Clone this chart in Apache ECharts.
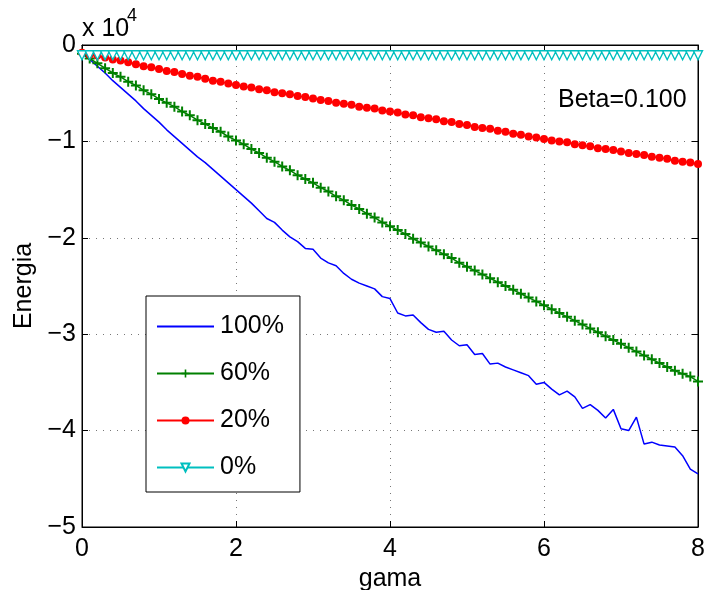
<!DOCTYPE html>
<html>
<head>
<meta charset="utf-8">
<script src="https://cdn.jsdelivr.net/npm/echarts@6/dist/echarts.min.js"></script>
<style>html,body{margin:0;padding:0;background:#fff;}#c{width:707px;height:590px;}</style>
</head>
<body>
<div id="c"></div>
<script>
// gama values (x axis)
var gama = [0.0,0.1,0.2,0.3,0.4,0.5,0.6,0.7,0.8,0.9,1.0,1.1,1.2,1.3,1.4,1.5,1.6,1.7,1.8,1.9,
  2.0,2.1,2.2,2.3,2.4,2.5,2.6,2.7,2.8,2.9,3.0,3.1,3.2,3.3,3.4,3.5,3.6,3.7,3.8,3.9,
  4.0,4.1,4.2,4.3,4.4,4.5,4.6,4.7,4.8,4.9,5.0,5.1,5.2,5.3,5.4,5.5,5.6,5.7,5.8,5.9,
  6.0,6.1,6.2,6.3,6.4,6.5,6.6,6.7,6.8,6.9,7.0,7.1,7.2,7.3,7.4,7.5,7.6,7.7,7.8,7.9,8.0];

// Energia, in units of 10^4
var e100 = [-0.09,-0.15,-0.22,-0.29,-0.37,-0.44,-0.51,-0.58,-0.66,-0.73,
  -0.80,-0.88,-0.95,-1.02,-1.09,-1.16,-1.22,-1.29,-1.36,-1.43,
  -1.50,-1.57,-1.64,-1.72,-1.80,-1.84,-1.92,-1.99,-2.04,-2.11,
  -2.12,-2.21,-2.26,-2.29,-2.37,-2.43,-2.47,-2.50,-2.53,-2.61,
  -2.63,-2.78,-2.81,-2.80,-2.88,-2.95,-2.98,-2.97,-3.06,-3.12,
  -3.11,-3.21,-3.20,-3.31,-3.30,-3.34,-3.37,-3.40,-3.43,-3.52,
  -3.50,-3.57,-3.63,-3.59,-3.65,-3.77,-3.73,-3.79,-3.87,-3.78,
  -3.98,-4.00,-3.86,-4.14,-4.12,-4.15,-4.16,-4.17,-4.26,-4.40,-4.45];

var e60 = [-0.09,-0.14,-0.19,-0.24,-0.29,-0.33,-0.38,-0.42,-0.47,-0.51,
  -0.56,-0.60,-0.64,-0.69,-0.73,-0.78,-0.82,-0.86,-0.90,-0.95,
  -0.99,-1.03,-1.08,-1.12,-1.17,-1.21,-1.26,-1.30,-1.35,-1.39,
  -1.43,-1.48,-1.52,-1.57,-1.61,-1.66,-1.70,-1.75,-1.79,-1.84,
  -1.88,-1.92,-1.96,-2.01,-2.05,-2.09,-2.13,-2.17,-2.21,-2.26,
  -2.30,-2.34,-2.38,-2.42,-2.46,-2.50,-2.54,-2.58,-2.62,-2.66,
  -2.70,-2.74,-2.78,-2.82,-2.86,-2.90,-2.94,-2.98,-3.02,-3.06,
  -3.10,-3.14,-3.18,-3.22,-3.26,-3.30,-3.34,-3.38,-3.41,-3.44,-3.49];

var e20 = [-0.08,-0.10,-0.11,-0.13,-0.15,-0.16,-0.18,-0.20,-0.22,-0.23,
  -0.25,-0.27,-0.28,-0.30,-0.32,-0.33,-0.35,-0.37,-0.38,-0.40,
  -0.415,-0.43,-0.44,-0.46,-0.47,-0.49,-0.50,-0.51,-0.53,-0.54,
  -0.555,-0.57,-0.58,-0.60,-0.61,-0.62,-0.64,-0.65,-0.66,-0.68,
  -0.69,-0.70,-0.72,-0.73,-0.75,-0.76,-0.77,-0.79,-0.80,-0.82,
  -0.83,-0.85,-0.86,-0.87,-0.89,-0.90,-0.92,-0.93,-0.95,-0.96,
  -0.975,-0.99,-1.00,-1.01,-1.03,-1.04,-1.05,-1.07,-1.08,-1.09,
  -1.105,-1.12,-1.13,-1.14,-1.16,-1.17,-1.18,-1.20,-1.21,-1.22,-1.235];

var e0 = [-0.085,-0.085,-0.085,-0.085,-0.085,-0.085,-0.085,-0.085,-0.085,-0.085,
  -0.085,-0.085,-0.085,-0.085,-0.085,-0.085,-0.085,-0.085,-0.085,-0.085,
  -0.085,-0.085,-0.085,-0.085,-0.085,-0.085,-0.085,-0.085,-0.085,-0.085,
  -0.085,-0.085,-0.085,-0.085,-0.085,-0.085,-0.085,-0.085,-0.085,-0.085,
  -0.085,-0.085,-0.085,-0.085,-0.085,-0.085,-0.085,-0.085,-0.085,-0.085,
  -0.085,-0.085,-0.085,-0.085,-0.085,-0.085,-0.085,-0.085,-0.085,-0.085,
  -0.085,-0.085,-0.085,-0.085,-0.085,-0.085,-0.085,-0.085,-0.085,-0.085,
  -0.085,-0.085,-0.085,-0.085,-0.085,-0.085,-0.085,-0.085,-0.085,-0.085,-0.085];

var seriesNames = ['100%', '60%', '20%', '0%'];
var xTicks = [0, 2, 4, 6, 8];
var yTicks = [0, -1, -2, -3, -4, -5];

function pairs(ys) { return gama.map(function (g, i) { return [g, ys[i]]; }); }
function fmt(v) { return String(v).replace('-', '\u2212'); }

var FONT = '"Liberation Sans", Arial, Helvetica, sans-serif';
var FS = 25;
var chart = echarts.init(document.getElementById('c'), null, { renderer: 'canvas' });

var dotted = { show: true, lineStyle: { color: '#777', width: 1, type: [1, 6] } };

var option = {
  backgroundColor: '#fff',
  animation: false,
  textStyle: { fontFamily: FONT },
  grid: { left: 82, top: 45, right: 9, bottom: 63, containLabel: false, outerBoundsMode: 'none',
    show: true, borderColor: '#000', borderWidth: 1, backgroundColor: 'transparent' },
  xAxis: [{
    type: 'value', min: xTicks[0], max: xTicks[xTicks.length - 1], interval: 2,
    name: 'gama', nameLocation: 'middle', nameGap: 37,
    nameTextStyle: { fontSize: FS, color: '#000', fontFamily: FONT },
    axisLine: { show: true, onZero: false, lineStyle: { color: '#000', width: 1 } },
    axisTick: { show: true, inside: true, length: 6, lineStyle: { color: '#000' } },
    axisLabel: { fontSize: FS, color: '#000', margin: 10, fontFamily: FONT, formatter: fmt },
    splitLine: dotted
  }, {
    type: 'value', position: 'top', min: 0, max: 8, interval: 2,
    axisLine: { show: true, onZero: false, lineStyle: { color: '#000', width: 1 } },
    axisTick: { show: true, inside: true, length: 6, lineStyle: { color: '#000' } },
    axisLabel: { show: false }, splitLine: { show: false }
  }],
  yAxis: [{
    type: 'value', min: yTicks[yTicks.length - 1], max: yTicks[0], interval: 1,
    name: 'Energia', nameLocation: 'middle', nameGap: 44, nameRotate: 90,
    nameTextStyle: { fontSize: FS, color: '#000', fontFamily: FONT },
    axisLine: { show: true, onZero: false, lineStyle: { color: '#000', width: 1 } },
    axisTick: { show: true, inside: true, length: 6, lineStyle: { color: '#000' } },
    axisLabel: { fontSize: FS, color: '#000', margin: 6, fontFamily: FONT, formatter: fmt },
    splitLine: dotted
  }, {
    type: 'value', position: 'right', min: -5, max: 0, interval: 1,
    axisLine: { show: true, onZero: false, lineStyle: { color: '#000', width: 1 } },
    axisTick: { show: true, inside: true, length: 6, lineStyle: { color: '#000' } },
    axisLabel: { show: false }, splitLine: { show: false }
  }],
  legend: {
    orient: 'vertical', left: 146, top: 296,
    data: [
      { name: seriesNames[0], itemStyle: { color: 'rgba(0,0,0,0)', borderWidth: 0, opacity: 0 } },
      { name: seriesNames[1] },
      { name: seriesNames[2] },
      { name: seriesNames[3] }
    ],
    backgroundColor: '#fff', borderColor: '#000', borderWidth: 1,
    padding: [18, 16, 12, 10], itemGap: 22, itemWidth: 57, itemHeight: 10,
    textStyle: { fontSize: FS, color: '#000', fontFamily: FONT, padding: [0, 0, 0, 1] }
  },
  series: [{
    name: seriesNames[0], type: 'line', data: pairs(e100), symbol: 'none',
    lineStyle: { color: '#0000ff', width: 1.5 }, itemStyle: { color: '#0000ff' }
  }, {
    name: seriesNames[1], type: 'line', data: pairs(e60),
    symbol: 'path://M-0.2,-1H0.2V-0.2H1V0.2H0.2V1H-0.2V0.2H-1V-0.2H-0.2Z', symbolSize: 10,
    lineStyle: { color: '#008000', width: 1.5 }, itemStyle: { color: '#008000' }
  }, {
    name: seriesNames[2], type: 'line', data: pairs(e20),
    symbol: 'circle', symbolSize: 8,
    lineStyle: { color: '#ff0000', width: 1.5 }, itemStyle: { color: '#ff0000', borderWidth: 0 }
  }, {
    name: seriesNames[3], type: 'line', data: pairs(e0),
    symbol: 'path://M-1,-0.9L1,-0.9L0,0.9Z', symbolSize: [9, 9], symbolOffset: [0, 2],
    lineStyle: { color: '#00bfbf', width: 1.5 },
    itemStyle: { color: '#ffffff', borderColor: '#00bfbf', borderWidth: 1.4 }
  }],
  graphic: [{
    type: 'text', left: 82, top: 17,
    style: { text: 'x 10', font: FS + 'px ' + FONT, fill: '#000' }
  }, {
    type: 'text', left: 127, top: 7,
    style: { text: '4', font: '18px ' + FONT, fill: '#000' }
  }, {
    type: 'text', left: 558, top: 88,
    style: { text: 'Beta=0.100', font: FS + 'px ' + FONT, fill: '#000' }
  }]
};
chart.setOption(option);
</script>
</body>
</html>
